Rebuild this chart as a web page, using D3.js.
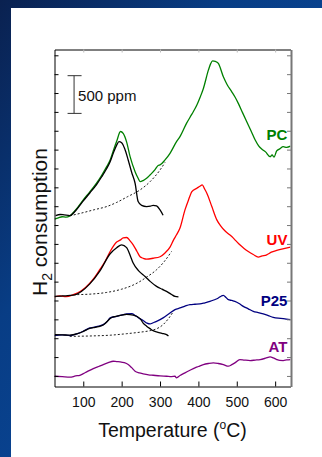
<!DOCTYPE html>
<html><head><meta charset="utf-8">
<script src="https://cdn.jsdelivr.net/npm/d3@7"></script>
<style>html,body{margin:0;padding:0;overflow:hidden;background:#fff}</style>
</head><body>
<svg id="c" width="322" height="457"></svg>
<script>
// ---- data (temperature in °C, H2 consumption in ppm, curves offset vertically) ----
const tempTicks = [100, 200, 300, 400, 500, 600];
const ppmTicks = [0, 250, 500, 750, 1000, 1250, 1500, 1750, 2000, 2250, 2500, 2750, 3000, 3250, 3500, 3750, 4000, 4250];
const seriesNames = ["PC", "UV", "P25", "AT"];
const seriesColors = ["#008000", "#ff0000", "#000080", "#800080"];
const labelAnchors = [[632, 3127], [632, 1738], [632, 931], [632, 323]];
const scaleBar = [3480, 3980];
const scaleBarTemp = 76;

const pcData = [[25,2078],[35,2095],[45,2110],[55,2105],[65,2122],[80,2200],[100,2334],[117,2440],[135,2559],[148,2660],[161,2774],[170,2863],[178,2982],[187,3110],[197,3240],[204,3215],[213,3100],[222,2906],[235,2708],[243,2620],[248,2576],[256,2590],[265,2620],[274,2664],[287,2735],[295,2790],[300,2797],[313,2863],[326,2951],[343,3105],[352,3171],[369,3348],[383,3470],[396,3590],[405,3700],[413,3811],[426,4053],[432,4140],[437,4176],[444,4170],[452,4142],[465,3965],[475,3860],[487,3766],[495,3700],[504,3613],[515,3490],[526,3369],[537,3250],[548,3127],[557,3050],[565,3008],[575,2970],[587,2906],[592,2930],[597,2900],[604,2982],[612,3010],[621,3039],[630,3030],[640,3045]];
const pcFit = [[28,2126],[40,2140],[50,2135],[65,2126],[80,2190],[100,2320],[117,2425],[135,2540],[148,2640],[161,2750],[170,2840],[178,2950],[187,3060],[193,3105],[200,3090],[208,3010],[217,2863],[226,2700],[235,2554],[243,2311],[252,2260],[265,2245],[275,2250],[282,2262],[291,2254],[300,2200],[308,2130]];
const pcBase = [[65,2122],[100,2165],[130,2205],[161,2245],[187,2300],[215,2375],[248,2466],[275,2580],[300,2730],[313,2830]];

const uvData = [[25,1047],[40,1060],[55,1050],[74,1077],[95,1130],[117,1231],[130,1310],[143,1408],[157,1520],[170,1650],[187,1775],[196,1800],[204,1830],[213,1835],[222,1790],[230,1738],[240,1650],[248,1580],[256,1560],[265,1548],[282,1560],[300,1580],[313,1630],[326,1708],[335,1800],[343,1871],[352,1960],[365,2201],[374,2330],[383,2443],[396,2488],[404,2515],[410,2532],[416,2480],[422,2422],[435,2245],[448,2069],[458,1990],[469,1924],[478,1885],[487,1848],[498,1790],[508,1738],[519,1690],[530,1650],[543,1610],[556,1576],[566,1590],[578,1606],[590,1640],[604,1663],[620,1685],[640,1708]];
const uvFit = [[25,1054],[45,1060],[74,1070],[95,1120],[117,1220],[143,1390],[170,1620],[187,1700],[200,1738],[213,1700],[222,1600],[230,1496],[245,1390],[261,1319],[275,1250],[291,1187],[305,1150],[317,1121],[330,1080],[339,1054],[348,1047]];
const uvBase = [[74,1077],[120,1085],[161,1107],[200,1150],[230,1205],[248,1253],[265,1310],[291,1408],[310,1510],[330,1650]];

const p25Data = [[25,535],[45,545],[65,535],[85,560],[100,592],[117,636],[126,644],[140,660],[152,680],[162,720],[170,769],[187,790],[204,812],[213,822],[226,826],[236,800],[248,756],[256,735],[266,700],[274,689],[282,705],[291,724],[308,769],[325,830],[339,879],[352,901],[365,925],[378,945],[391,950],[404,954],[417,970],[430,988],[442,1010],[452,1033],[460,1060],[465,1068],[472,1040],[478,1011],[487,1000],[495,988],[506,960],[517,922],[530,890],[543,856],[556,840],[569,822],[582,800],[595,777],[608,765],[621,759],[630,752],[640,746]];
const p25Fit = [[26,548],[45,545],[65,540],[85,560],[100,590],[117,630],[126,640],[140,655],[152,675],[174,775],[190,795],[204,810],[213,815],[230,805],[248,760],[256,700],[265,660],[274,627],[282,600],[291,584],[305,565],[317,548],[322,530]];
const p25Base = [[65,525],[120,530],[170,540],[213,560],[248,580],[274,600],[291,625],[308,680],[322,760],[335,856]];

const atData = [[25,-4],[45,-10],[65,-17],[80,0],[91,9],[100,30],[109,54],[126,98],[140,125],[152,151],[165,175],[178,195],[187,190],[196,187],[207,175],[217,151],[226,110],[235,62],[246,40],[256,28],[270,15],[282,9],[300,0],[317,-4],[330,-8],[339,-4],[343,-25],[352,5],[365,41],[378,75],[391,107],[400,125],[413,151],[426,165],[439,173],[452,165],[465,151],[478,129],[487,150],[495,173],[508,217],[520,210],[535,204],[548,210],[561,217],[575,235],[587,253],[595,240],[604,217],[612,205],[621,204],[630,212],[640,217]];

// ---- drawing ----
const W = 322, H = 457;
const svg = d3.select("#c");
const defs = svg.append("defs");
const grad = defs.append("linearGradient").attr("id","bg").attr("x1","0").attr("y1","0").attr("x2","1").attr("y2","1");
grad.append("stop").attr("offset","0%").attr("stop-color","#0a2150");
grad.append("stop").attr("offset","35%").attr("stop-color","#083d85");
grad.append("stop").attr("offset","100%").attr("stop-color","#0a4fa8");
svg.append("rect").attr("width",W).attr("height",H).attr("fill","url(#bg)");
svg.append("rect").attr("x",11).attr("y",8).attr("width",W-11).attr("height",H-8).attr("fill","#fff");

const xS = d3.scaleLinear().domain([25, 640]).range([54.5, 290.5]);
const yS = d3.scaleLinear().domain([-140, 4327]).range([386.5, 49.5]);

defs.append("clipPath").attr("id","clip").append("rect")
  .attr("x",54.5).attr("y",49.5).attr("width",236).attr("height",337);

const font = "'Liberation Sans', Arial, Helvetica, sans-serif";
const lineGen = d3.line().x(d => xS(d[0])).y(d => yS(d[1])).curve(d3.curveMonotoneX);
const plot = svg.append("g").attr("clip-path","url(#clip)");

function drawLine(data, color, dashed) {
  plot.append("path").datum(data).attr("d", lineGen)
    .attr("fill","none").attr("stroke",color)
    .attr("stroke-width", dashed ? 0.9 : 1.3)
    .attr("stroke-linejoin","round")
    .attr("stroke-dasharray", dashed ? "2,2" : null);
}
drawLine(pcBase, "#000", true);
drawLine(uvBase, "#000", true);
drawLine(p25Base, "#000", true);
drawLine(atData, seriesColors[3]);
drawLine(p25Data, seriesColors[2]);
drawLine(p25Fit, "#000");
drawLine(uvData, seriesColors[1]);
drawLine(uvFit, "#000");
drawLine(pcData, seriesColors[0]);
drawLine(pcFit, "#000");

// axes
function styleAxis(sel, color, width) {
  sel.selectAll("path").attr("stroke", color).attr("stroke-width", width);
  sel.selectAll("line").attr("stroke", color).attr("stroke-width", 1);
}
const axBottom = svg.append("g").attr("transform","translate(0,386.5)")
  .call(d3.axisBottom(xS).tickValues(tempTicks).tickSizeInner(-5).tickSizeOuter(0).tickPadding(11));
styleAxis(axBottom, "#000", 1);
axBottom.selectAll("text").attr("font-family", font).attr("font-size", 14).attr("fill","#111");

const axTop = svg.append("g").attr("transform","translate(0,49.5)")
  .call(d3.axisTop(xS).tickValues(tempTicks).tickSizeInner(-3).tickSizeOuter(0).tickFormat(""));
styleAxis(axTop, "#000", 1);
axTop.selectAll("line").attr("stroke","#bbb");

const axLeft = svg.append("g").attr("transform","translate(54.5,0)")
  .call(d3.axisLeft(yS).tickValues(ppmTicks).tickSizeInner(-4).tickSizeOuter(0).tickFormat(""));
styleAxis(axLeft, "#000", 1);

const axRight = svg.append("g").attr("transform","translate(291,0)")
  .call(d3.axisRight(yS).tickValues(ppmTicks).tickSizeInner(-4).tickSizeOuter(0).tickFormat(""));
styleAxis(axRight, "#777", 2);

// scale bar
const sb = svg.append("g").attr("stroke","#333").attr("stroke-width",1);
sb.append("line").attr("x1", xS(scaleBarTemp)).attr("x2", xS(scaleBarTemp)).attr("y1", yS(scaleBar[0])).attr("y2", yS(scaleBar[1]));
[0,1].forEach(i => sb.append("line").attr("x1", xS(scaleBarTemp)-6.5).attr("x2", xS(scaleBarTemp)+7.5)
  .attr("y1", yS(scaleBar[i])).attr("y2", yS(scaleBar[i])));
svg.append("text").attr("x", xS(scaleBarTemp)+4).attr("y", 101).attr("font-family", font)
  .attr("font-size", 15).attr("fill","#111").text("500 ppm");

// series labels
seriesNames.forEach((n, i) => {
  svg.append("text").attr("x", xS(labelAnchors[i][0])).attr("y", yS(labelAnchors[i][1]))
    .attr("text-anchor","end").attr("font-family", font).attr("font-weight","bold")
    .attr("font-size", 15).attr("fill", seriesColors[i]).text(n);
});

// axis titles
const xt = svg.append("text").attr("x", 172.5).attr("y", 437).attr("text-anchor","middle")
  .attr("font-family", font).attr("font-size", 19.5).attr("fill","#111");
xt.append("tspan").text("Temperature (");
xt.append("tspan").attr("font-size", 12).attr("dy", -8).text("o");
xt.append("tspan").attr("dy", 8).text("C)");

const yt = svg.append("text").attr("transform","translate(47,222) rotate(-90)").attr("text-anchor","middle")
  .attr("font-family", font).attr("font-size", 21).attr("fill","#111");
yt.append("tspan").text("H");
yt.append("tspan").attr("font-size", 14).attr("dy", 5).text("2");
yt.append("tspan").attr("dy", -5).text(" consumption");
</script>
</body></html>
